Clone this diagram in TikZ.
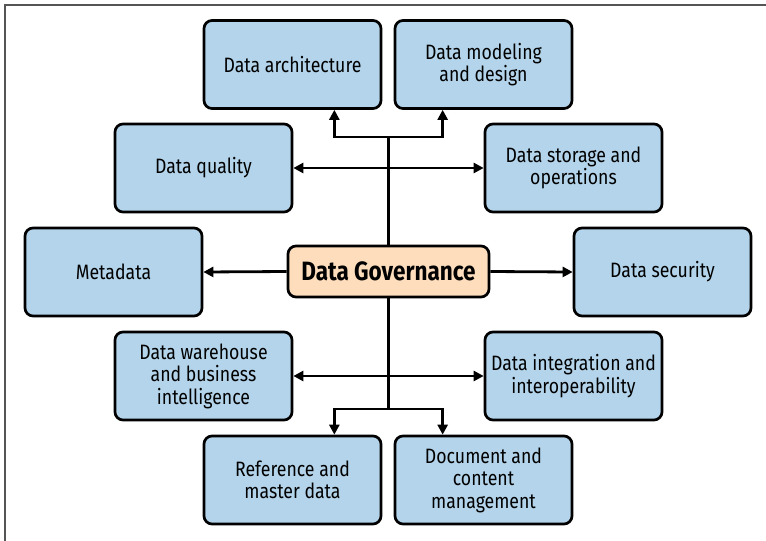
\documentclass[tikz,border=0pt]{standalone}
\usepackage{fontspec}
\setmainfont{Fira Sans}[FakeStretch=0.85]
\usetikzlibrary{arrows.meta}
\definecolor{boxblue}{HTML}{B3D4EA}
\definecolor{govfill}{HTML}{FDDDBC}
\definecolor{framegray}{HTML}{555555}
\tikzset{
  area/.style={draw=black, line width=2.7pt, fill=boxblue, rounded corners=8pt,
    minimum width=177pt, minimum height=88pt, align=center, inner sep=2pt,
    font=\fontsize{20.8}{22.5}\selectfont},
  gov/.style={draw=black, line width=2.7pt, fill=govfill, rounded corners=8pt,
    minimum width=201pt, minimum height=51pt, align=center,
    font=\fontsize{26.5}{28}\selectfont\bfseries},
  conn/.style={line width=2.8pt, draw=black},
  tip/.style={conn, -{Triangle[length=10pt,width=10pt]}},
  dtip/.style={conn, {Triangle[length=10pt,width=10pt]}-{Triangle[length=10pt,width=10pt]}}
}
\begin{document}
\begin{tikzpicture}[x=1pt,y=-1pt]
\useasboundingbox (0,0) rectangle (766,541);
\draw[framegray, line width=2pt] (4.5,541) -- (4.5,5) -- (766,5);

\node[area] (arch) at (292.5,64.5) {Data architecture};
\node[area] (model) at (483.5,64.5) {Data modeling\\and design};
\node[area] (quality) at (203.5,168) {Data quality};
\node[area] (storage) at (573.5,168) {Data storage and\\operations};
\node[area] (meta) at (113.5,272) {Metadata};
\node[area] (security) at (662.5,272) {Data security};
\node[area] (warehouse) at (203.5,376) {Data warehouse\\and business\\intelligence};
\node[area] (integration) at (573.5,376) {Data integration and\\interoperability};
\node[area] (reference) at (292.5,480) {Reference and\\master data};
\node[area] (document) at (483.5,480) {Document and\\content\\management};
\node[gov] (dg) at (388.5,271.5) {Data Governance};

\coordinate (tj) at (388.5,137);
\coordinate (bj) at (388.5,409);

\draw[conn] (dg.north) -- (tj);
\draw[conn] (dg.south) -- (bj);
\draw[tip] (tj) -| ([xshift=-48pt]arch.south east);
\draw[tip] (tj) -| ([xshift=49pt]model.south west);
\draw[tip] (bj) -| ([xshift=-48pt]reference.north east);
\draw[tip] (bj) -| ([xshift=49pt]document.north west);
\draw[dtip] (quality.east) -- (storage.west);
\draw[dtip] (warehouse.east) -- (integration.west);
\draw[tip] (dg.west) -- (meta.east);
\draw[tip] (dg.east) -- (security.west);
\end{tikzpicture}
\end{document}
